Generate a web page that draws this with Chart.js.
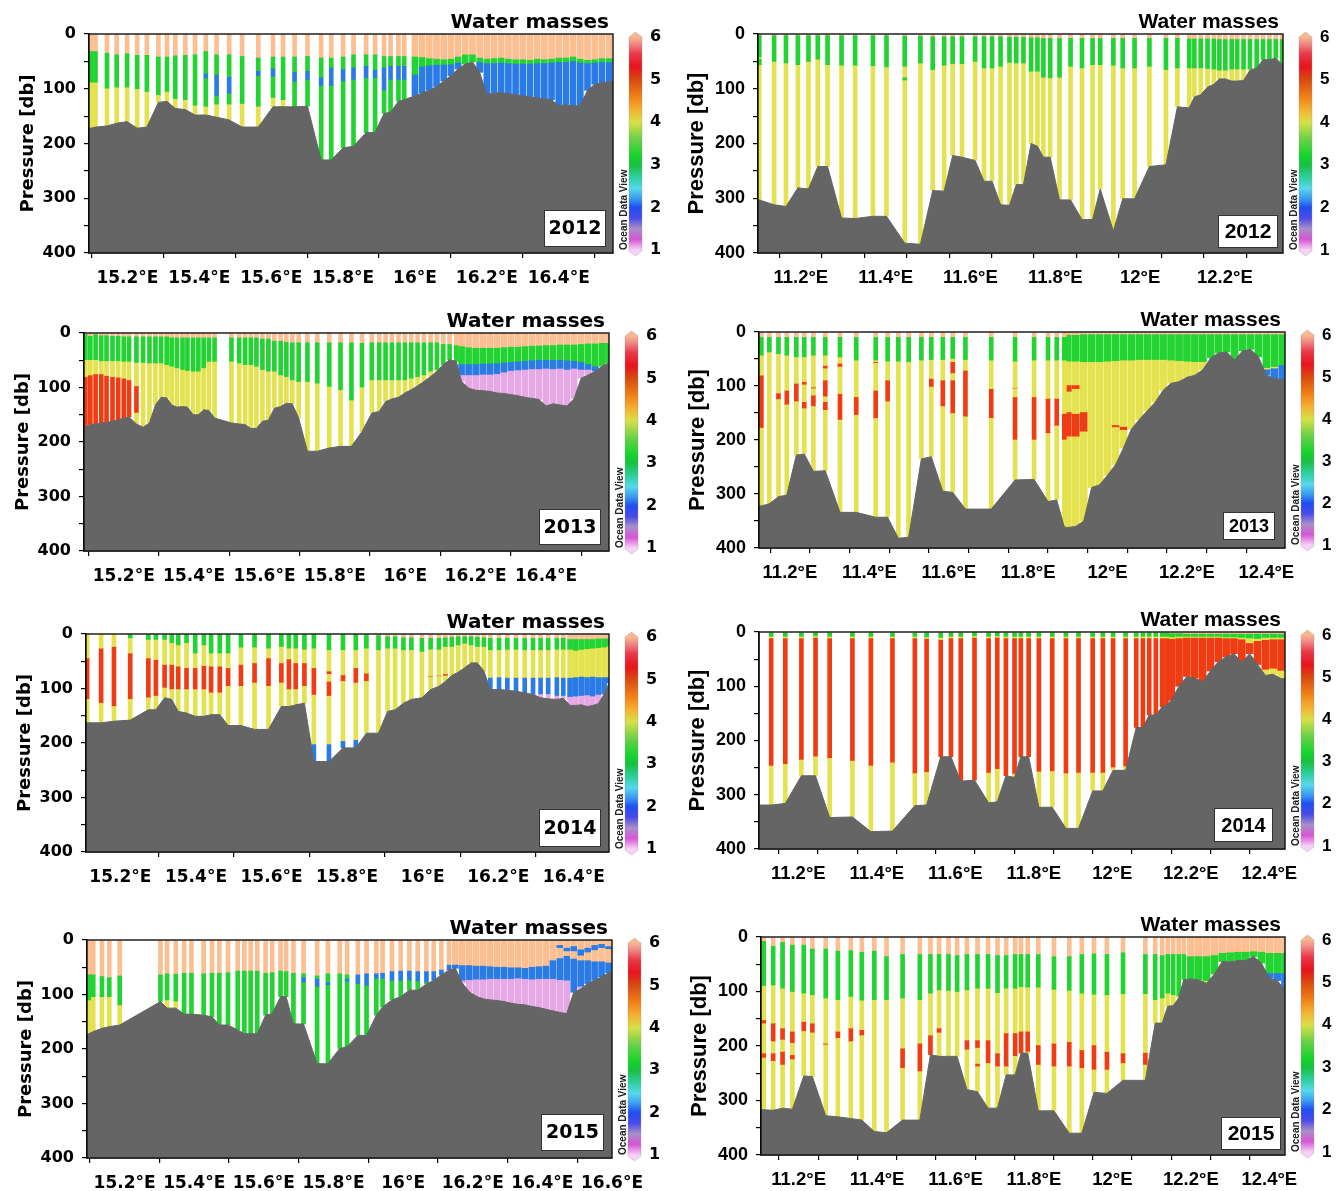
<!DOCTYPE html>
<html>
<head>
<meta charset="utf-8">
<script src="https://cdn.jsdelivr.net/npm/chart.js@4.4.1/dist/chart.umd.min.js"></script>
<style>
  body { margin: 0; background: #fff; width: 1338px; height: 1191px; position: relative; overflow: hidden; }
  canvas { position: absolute; }
</style>
</head>
<body>
<script>
// water mass class of each layer, then the depth (db) where that layer ends; last depth = sea floor at the station
var years = ['2012', '2013', '2014', '2015'];
var eTicks = [15.2, 15.4, 15.6, 15.8, 16, 16.2, 16.4, 16.6];
var wTicks = [11.1, 11.2, 11.3, 11.4, 11.5, 11.6, 11.7, 11.8, 11.9, 12, 12.1, 12.2, 12.3, 12.4];
var depthTicks = [0, 50, 100, 150, 200, 250, 300, 350, 400];
var cbarTicks = [1, 2, 3, 4, 5, 6];

// ---- 2012, 15-16.6 E
var e12Lon = [15.099,15.111,15.143,15.170,15.199,15.227,15.254,15.286,15.310,15.333,15.361,15.388,15.418,15.448,15.483,15.519,15.564,15.605,15.633,15.665,15.701,15.739,15.767,15.800,15.829,15.864,15.889,15.914,15.932,15.954,15.970];
var e12Col = [
  [6,32,3,88,4,172],[6,32,3,88,4,170],[6,35,3,99,4,168],[6,38,3,97,4,163],[6,36,3,97,4,160],
  [6,39,3,100,4,172],[6,39,3,105,4,170],[6,42,3,111,4,125],[6,42,3,105,4,123],[6,40,3,118,4,136],
  [6,39,3,120,4,138],[6,38,3,130,4,148],[6,32,3,73,2,80,3,132,4,148],[6,38,3,75,2,112,3,128,4,152],[6,38,3,79,2,108,3,128,4,157],
  [6,41,3,127,4,170],[6,44,3,68,2,76,3,132,4,170],[6,42,3,64,2,77,3,116,4,133],[6,42,3,120,4,133],[6,42,3,70,2,86,3,133],
  [6,41,3,68,2,83,3,132],[6,44,3,80,2,94,3,230],[6,44,3,62,2,94,3,230],[6,42,3,65,2,86,3,208],[6,38,3,62,2,83,3,205],
  [6,38,3,59,2,80,3,180],[6,38,3,66,2,80,3,180],[6,41,3,62,2,102,3,145],[6,41,3,59,2,83,3,143],[6,41,3,59,2,83,3,123],
  [6,41,3,59,2,83,3,120]
];
var e12LonD = [16.00,16.02,16.04,16.06,16.08,16.10,16.12,16.14,16.16,16.18,16.20,16.22,16.24,16.26,16.28,16.30,16.32,16.34,16.36,16.38,16.40,16.42,16.44,16.46,16.48,16.50,16.52,16.54];
var e12ColD = [
  [6,42,3,75,2,113],[6,43,3,60,2,108],[6,45,3,58,2,103],[6,46,3,57,2,96],[6,47,3,57,2,86],
  [6,46,3,56,2,76],[6,42,3,53,2,64],[6,38,3,55],[6,38,3,51],[6,44,3,52,2,70],
  [6,46,3,54,2,110],[6,45,3,54,2,108],[6,44,3,53,2,107],[6,46,3,54,2,109],[6,47,3,55,2,111],
  [6,47,3,55,2,113],[6,48,3,55,2,115],[6,46,3,54,2,117],[6,47,3,54,2,118],[6,46,3,53,2,120],
  [6,44,3,52,2,131],[6,44,3,52,2,129],[6,42,3,50,2,132],[6,46,3,53,2,130],[6,48,3,54,2,103],
  [6,47,3,53,2,92],[6,45,3,52,2,89],[6,45,3,52,2,87]
];

// ---- 2012, 11-12.4 E
var w12Lon = [11.102,11.137,11.165,11.193,11.218,11.240,11.263,11.296,11.328,11.370,11.402,11.445,11.482,11.511,11.538,11.558,11.580,11.611,11.632,11.651,11.671,11.692,11.708,11.725,11.743,11.758,11.772,11.788,11.810,11.836,11.863,11.888,11.906,11.937,11.959,11.987,12.022,12.061,12.088,12.116,12.128,12.143,12.159,12.174,12.187,12.201,12.216,12.229,12.244,12.259,12.275,12.290,12.305,12.320,12.335];
var w12Col = [
  [6,3,3,42,4,46,3,56,4,303],[6,3,3,50,4,312],[6,3,3,53,4,315],[6,3,3,56,4,281],[6,3,3,50,4,283],
  [6,3,3,46,4,242],[6,3,3,56,4,242],[6,3,3,57,4,336],[6,3,3,57,4,337],[6,3,3,58,4,333],
  [6,3,3,60,4,333],[6,4,3,59,4,80,3,84,4,382],[6,4,3,53,4,384],[6,5,3,65,4,286],[6,5,3,57,4,287],
  [6,5,3,54,4,222],[6,5,3,54,4,225],[6,5,3,50,4,231],[6,5,3,62,4,269],[6,5,3,62,4,269],
  [6,5,3,59,4,312],[6,6,3,52,4,313],[6,6,3,53,4,275],[6,6,3,53,4,275],[6,7,3,68,4,200],
  [6,7,3,68,4,205],[6,8,3,79,4,225],[6,8,3,80,4,225],[6,8,3,79,4,303],[6,8,3,59,4,303],
  [6,8,3,62,4,339],[6,8,3,56,4,339],[6,8,3,56,4,283],[6,8,3,57,4,360],[6,8,3,62,4,301],
  [6,8,3,62,4,301],[6,8,3,59,4,242],[6,8,3,65,4,239],[6,8,3,62,4,133],[6,9,3,62,4,135],
  [6,9,3,62,4,115],[6,9,3,62,4,111],[6,9,3,63,4,97],[6,9,3,64,4,92],[6,10,3,66,4,82],
  [6,10,3,66,4,82],[6,10,3,64,4,86],[6,10,3,64,4,86],[6,10,3,64,4,85],[6,10,3,64,4,66],
  [6,10,3,62],[6,10,3,47],[6,10,3,47],[6,10,3,44],[6,10,3,56]
];

// ---- 2013, 15-16.6 E
var e13Lon = [15.091,15.105,15.120,15.136,15.151,15.168,15.184,15.200,15.215,15.236,15.255,15.273,15.290,15.306,15.322,15.336,15.351,15.367,15.381,15.397,15.412,15.427,15.442,15.458,15.506,15.528,15.545,15.561,15.577,15.594,15.611,15.628,15.646,15.662,15.679,15.697,15.722,15.750,15.784,15.816,15.847,15.877,15.905,15.926,15.944,15.962,15.981,15.999,16.017,16.035,16.053,16.072,16.090,16.108,16.126,16.145];
var e13Col = [
  [6,3,3,49,4,80,5,172],[6,6,3,49,4,77,5,168],[6,3,3,49,4,75,5,167],[6,5,3,51,4,75,5,165],[6,5,3,51,4,78,5,164],
  [6,6,3,51,4,80,5,162],[6,6,3,51,4,81,5,159],[6,7,3,52,4,83,5,156],[6,7,3,52,4,86,5,154],[6,7,3,54,4,97,5,147,4,167],
  [6,7,3,54,4,173],[6,7,3,55,4,165],[6,7,3,55,4,132],[6,7,3,55,4,118],[6,7,3,58,4,119],
  [6,9,3,61,4,132],[6,9,3,64,4,136],[6,9,3,67,4,135],[6,9,3,69,4,136],[6,9,3,70,4,150],
  [6,9,3,70,4,150],[6,9,3,64,4,141],[6,9,3,52,4,142],[6,9,3,52,4,156],[6,9,3,52,4,165],
  [6,9,3,55,4,167],[6,9,3,58,4,168],[6,9,3,58,4,175],[6,9,3,61,4,175],[6,11,3,67,4,162],
  [6,11,3,70,4,160],[6,15,3,70,4,138],[6,15,3,77,4,135],[6,17,3,80,4,129],[6,18,3,86,4,130],
  [6,18,3,89,4,156],[6,18,3,89,4,217],[6,18,3,92,4,217],[6,18,3,98,4,211],[6,18,3,104,4,208],
  [6,18,3,123,4,208],[6,19,3,99,4,181],[6,18,3,86,4,147],[6,18,3,86,4,144],[6,18,3,86,4,126],
  [6,18,3,86,4,121],[6,18,3,86,4,118],[6,18,3,86,4,110],[6,18,3,83,4,104],[6,18,3,80,4,97],
  [6,18,3,77,4,89],[6,18,3,70,4,80],[6,18,3,67,4,70],[6,21,3,58],[6,21,3,49],
  [6,23,3,52]
];
var e13LonD = [16.16,16.18,16.20,16.22,16.24,16.26,16.28,16.30,16.32,16.34,16.36,16.38,16.40,16.42,16.44,16.46,16.48,16.50,16.52,16.54,16.56,16.578];
var e13ColD = [
  [6,25,3,58,2,78,1,89],[6,27,3,58,2,78,1,101],[6,28,3,58,2,78,1,105],[6,28,3,57,2,77,1,106],[6,28,3,57,2,77,1,107],
  [6,28,3,56,2,76,1,110],[6,27,3,55,2,73,1,111],[6,26,3,54,2,70,1,113],[6,26,3,53,2,69,1,115],[6,25,3,52,2,68,1,118],
  [6,24,3,51,2,67,1,120],[6,24,3,50,2,67,1,122],[6,23,3,50,2,66,1,134],[6,23,3,50,2,67,1,130],[6,22,3,50,2,66,1,132],
  [6,22,3,51,2,68,1,134],[6,22,3,52,2,66,1,120],[6,21,3,54,2,68,1,83],[6,20,3,58,2,68,1,77],[6,20,3,62,2,70],
  [6,19,3,61],[6,19,3,55]
];

// ---- 2013, 11-12.4 E
var w13Lon = [11.128,11.148,11.171,11.192,11.216,11.236,11.259,11.289,11.326,11.367,11.416,11.446,11.473,11.499,11.531,11.556,11.585,11.610,11.642,11.707,11.767,11.815,11.850,11.872,11.891];
var w13Col = [
  [6,10,3,43,4,80,5,178,4,322],[6,10,3,37,4,318],[6,10,3,40,4,113,5,125,4,305],[6,10,3,43,4,108,5,135,4,302],[6,10,3,46,4,95,5,129,4,228],
  [6,10,3,46,4,92,5,98,4,129,5,142,4,226],[6,10,3,43,4,102,5,105,4,117,5,138,4,258],[6,10,3,43,4,62,5,68,4,89,5,120,4,129,5,145,4,257],[6,10,3,46,4,58,5,65,4,114,5,163,4,334],[6,10,3,52,4,120,5,154,4,334],
  [6,10,3,52,4,55,5,58,4,108,5,160,4,343],[6,10,3,54,4,89,5,129,4,343],[6,10,3,54,4,382],[6,10,3,55,4,380],[6,10,3,52,4,235],
  [6,10,3,51,4,86,5,102,4,231],[6,10,3,51,4,89,5,138,4,295],[6,10,3,49,4,55,5,77,4,89,5,151,4,297],[6,10,3,51,4,71,5,157,4,328],[6,10,3,52,4,105,5,160,4,328],
  [6,10,3,54,4,103,5,105,4,120,5,200,4,274],[6,10,3,52,4,120,5,200,4,273],[6,10,3,52,4,123,5,188,4,314],[6,10,3,52,4,123,5,174,4,311],[6,10,3,52,4,151,5,200,4,361]
];
var w13LonD = [11.90,11.92,11.94,11.96,11.98,12.00,12.02,12.04,12.06,12.08,12.10,12.12,12.14,12.16,12.18,12.20,12.22,12.24,12.26,12.28,12.30,12.32,12.34,12.36,12.38,12.40,12.42,12.44];
var w13ColD = [
  [6,6,3,54,4,98,5,111,4,148,5,194,4,362],[6,6,3,54,4,98,5,106,4,151,5,194,4,360],[6,5,3,55,4,148,5,185,4,350],[6,5,3,55,4,288],[6,5,3,55,4,283],
  [6,5,3,54,4,265],[6,5,3,53,4,172,5,177,4,246],[6,5,3,52,4,175,5,182,4,215],[6,5,3,52,4,180],[6,5,3,51,4,162],
  [6,5,3,51,4,146],[6,5,3,51,4,130],[6,5,3,51,4,108],[6,5,3,52,4,95],[6,5,3,53,4,92],
  [6,5,3,54,4,84],[6,5,3,55,4,80],[6,5,3,55,4,70],[6,5,3,48],[6,5,3,39],
  [6,5,3,37],[6,5,3,52],[6,5,3,35],[6,5,3,32],[6,5,3,46],
  [6,5,3,66,4,70,2,80],[6,5,3,64,4,68,2,86],[6,5,3,62,2,88]
];

// ---- 2014, 15-16.6 E
var e14Lon = [15.112,15.149,15.183,15.226,15.274,15.294,15.317,15.336,15.353,15.375,15.398,15.421,15.440,15.463,15.485,15.519,15.555,15.592,15.626,15.646,15.664,15.687,15.712,15.752,15.789,15.823,15.851,15.883,15.907,15.927,15.949,15.970,15.998,16.021,16.043,16.060,16.077,16.094,16.111,16.128,16.145,16.162,16.179,16.202,16.224,16.247,16.270,16.292,16.312,16.332,16.355,16.372];
var e14Col = [
  [4,44,5,120,4,163],[4,26,5,127,4,163],[4,23,5,133,4,160],[3,7,4,35,5,120,4,158],[3,10,4,44,5,117,4,139],
  [3,10,4,47,5,114,4,139],[3,10,4,56,5,99,4,117],[3,16,4,56,5,102,4,120],[3,20,4,59,5,102,4,142],[3,16,4,62,5,102,4,145],
  [3,35,4,62,5,102,4,151],[3,20,4,58,5,102,4,151],[3,35,4,59,5,108,4,148],[3,35,4,59,5,108,4,148],[3,35,4,62,5,96,4,168],
  [3,24,4,56,5,96,4,168],[3,24,4,53,5,90,4,175],[3,26,4,44,5,96,4,175],[3,23,4,53,5,90,4,133],[3,26,4,46,5,102,4,133],
  [3,26,4,53,5,102,4,130],[3,28,4,53,5,96,4,127],[3,26,4,62,5,112,4,203,2,234],[3,29,4,68,5,74,4,87,5,114,4,203,2,234],[3,29,4,75,5,87,4,197,2,209],
  [3,29,4,62,5,90,4,195,2,209],[3,26,4,72,5,87,4,182],[6,3,3,29,4,182],[6,5,3,26,4,142],[6,5,3,26,4,139],
  [6,7,3,29,4,127],[6,7,3,29,4,120],[6,8,3,32,4,117],[6,8,3,28,4,77,5,79,4,102],[6,8,3,28,4,76,5,78,4,96],
  [6,7,3,23,4,73,5,77,4,87],[6,6,3,23,4,76],[6,5,3,20,4,70],[6,5,3,17,4,62],[6,5,3,20,4,53],
  [6,6,3,23,4,53],[6,7,3,23,4,68],[6,8,3,29,4,81,2,102],[6,8,3,29,4,80,2,102],[6,8,3,28,4,81,2,103],
  [6,8,3,28,4,81,2,105],[6,8,3,29,4,81,2,108],[6,8,3,29,4,81,2,111],[6,8,3,29,4,81,2,111,1,117],[6,8,3,29,4,81,2,111,1,119],
  [6,8,3,28,4,80,2,114,1,120],[6,8,3,28,4,81,2,114,1,118]
];
var e14LonD = [16.39,16.405,16.42,16.435,16.45,16.465,16.48,16.493];
var e14ColD = [
  [6,10,3,28,4,81,2,116,1,131],[6,10,3,30,4,80,2,115,1,131],[6,10,3,28,4,79,2,114,1,130],[6,10,3,27,4,80,2,113,1,133],
  [6,10,3,26,4,79,2,115,1,131],[6,9,3,25,4,80,2,112,1,128],[6,9,3,24,4,80,2,110],[6,9,3,22,4,80,2,90]
];

// ---- 2014, 11-12.4 E
var w14Lon = [11.131,11.167,11.208,11.244,11.280,11.338,11.385,11.440,11.497,11.527,11.563,11.589,11.614,11.649,11.685,11.707,11.729,11.751,11.767,11.787,11.813,11.847,11.882,11.914,11.950,11.976,12.002,12.034,12.061,12.078,12.094,12.111,12.127,12.138];
var w14Col = [
  [6,2,3,8,4,11,5,247,4,319],[6,2,3,8,4,11,5,244,4,316],[6,2,3,8,4,11,5,236,4,265],[6,2,3,7,4,10,5,230,4,265],[6,2,3,8,4,11,5,233,4,342],
  [6,1,3,8,4,11,5,238,4,341],[6,2,3,8,4,11,5,247,4,368],[6,2,3,8,4,11,5,241,4,367],[6,2,3,8,4,11,5,261,4,320],[6,2,3,9,4,12,5,259,4,319],
  [6,2,3,10,4,14,5,230],[6,2,3,8,4,11,5,230],[6,2,3,8,4,11,5,275],[6,1,3,7,4,10,5,273],[6,2,3,8,4,11,5,260,4,315],
  [6,1,3,7,4,10,5,253,4,313],[6,2,3,8,4,11,5,265],[6,2,3,8,4,11,5,262,4,268],[6,2,3,8,4,11,5,230],[6,2,3,8,4,11,5,230],
  [6,2,3,8,4,11,5,258,4,323],[6,2,3,8,4,11,5,257,4,323],[6,2,3,8,4,11,5,261,4,362],[6,2,3,8,4,11,5,260,4,362],[6,2,3,8,4,11,5,260,4,293],
  [6,2,3,8,4,11,5,260,4,293],[6,2,3,8,4,11,5,250,4,255],[6,2,3,8,4,11,5,248,4,255],[6,2,3,8,4,11,5,176],[6,2,3,8,4,11,5,176],
  [6,2,3,8,4,11,5,153],[6,2,3,8,4,11,5,153],[6,2,3,8,4,11,5,138],[6,2,3,8,4,11,5,135]
];
var w14LonD = [12.15,12.17,12.19,12.21,12.23,12.25,12.27,12.29,12.31,12.33,12.35,12.37,12.39,12.41,12.43];
var w14ColD = [
  [6,3,3,9,4,12,5,126],[6,3,3,8,4,11,5,100],[6,4,3,8,4,10,5,82],[6,4,3,8,4,10,5,85],[6,4,3,8,4,10,5,92],
  [6,4,3,8,4,10,5,72],[6,4,3,8,4,10,5,55],[6,4,3,9,4,11,5,46],[6,4,3,9,4,11,5,40],[6,4,3,10,4,13,5,56],
  [6,4,3,11,4,20,5,40],[6,4,3,12,4,16,5,60],[6,4,3,10,4,14,5,70,4,80],[6,4,3,10,4,13,5,68,4,78],[6,4,3,10,4,13,5,72,4,86]
];

// ---- 2015, 15-16.6 E
var e15Lon = [15.097,15.110,15.135,15.156,15.186,15.303,15.322,15.347,15.371,15.392,15.427,15.451,15.472,15.497,15.525,15.544,15.562,15.581,15.605,15.624,15.648,15.664,15.685,15.714,15.753,15.784,15.818,15.839,15.870,15.895,15.923,15.941,15.968,15.993,16.018,16.042,16.067,16.088,16.110,16.132];
var e15Col = [
  [6,64,3,110,4,172],[6,64,3,104,4,168],[6,67,3,104,4,162],[6,69,3,104,4,159],[6,66,3,119,4,156],
  [6,64,3,113],[6,62,3,110,4,125],[6,63,3,112,4,125],[6,61,3,136],[6,61,3,136],
  [6,62,3,138],[6,61,3,141],[6,61,3,156],[6,60,3,156],[6,57,3,165],
  [6,57,3,172],[6,57,3,172],[6,57,3,172],[6,61,3,138],[6,60,3,135],
  [6,57,3,104],[6,58,3,104],[6,61,3,154],[6,62,3,69,2,77,3,154],[6,66,3,72,2,85,3,227],
  [6,62,3,78,2,82,3,227],[6,62,3,199],[6,64,3,72,2,76,3,196],[6,64,2,80,3,175],[6,62,2,83,3,175],
  [6,62,2,70,3,138],[6,61,2,70,3,123],[6,58,2,74,3,110],[6,57,2,74,3,104],[6,57,2,74,3,92],
  [6,58,2,75,3,92],[6,58,2,77,3,81],[6,58,2,74],[6,55,2,64],[6,46,2,55]
];
var e15LonD = [16.15,16.17,16.19,16.21,16.23,16.25,16.27,16.29,16.31,16.33,16.35,16.37,16.39,16.41,16.43,16.45,16.47,16.49,16.51,16.53,16.55,16.57,16.59];
var e15ColD = [
  [6,46,2,52],[6,47,2,75,1,79],[6,47,2,74,1,95],[6,48,2,73,1,103],[6,48,2,73,1,108],
  [6,49,2,72,1,110],[6,50,2,72,1,111],[6,50,2,72,1,113],[6,51,2,72,1,116],[6,51,2,71,1,118],
  [6,52,2,72,1,119],[6,50,2,73,1,122],[6,49,2,72,1,124],[6,48,2,72,1,127],[6,38,2,72,1,130],
  [6,10,2,14,6,34,2,74,1,133],[6,15,2,20,6,30,2,75,1,135],[6,12,2,20,6,35,2,96],[6,18,2,28,6,38,2,86,1,90],[6,15,2,22,6,38,2,80],
  [6,10,2,18,6,40,2,74],[6,8,2,14,6,40,2,68],[6,12,2,16,6,42,2,60]
];

// ---- 2015, 11-12.4 E
var w15Lon = [11.111,11.135,11.159,11.184,11.213,11.235,11.269,11.300,11.333,11.361,11.393,11.424,11.465,11.509,11.536,11.558,11.582,11.604,11.629,11.656,11.683,11.707,11.729,11.752,11.767,11.784,11.811,11.851,11.890,11.922,11.953,11.986,12.027,12.084,12.109,12.127,12.141,12.155,12.169,12.182];
var w15Col = [
  [6,8,3,89,4,152,5,159,4,213,5,222,4,317],[6,17,3,88,4,158,5,192,4,213,5,228,4,318],[6,10,3,94,4,167,5,189,4,210,5,235,4,314],[6,15,3,100,4,173,5,195,4,216,5,225,4,316],[6,15,3,103,4,155,5,173,4,255],
  [6,22,3,106,4,158,5,176,4,256],[6,22,3,112,4,195,5,198,4,328],[6,26,3,115,4,173,5,186,4,330],[6,25,3,109,4,167,5,192,4,333],[6,28,3,116,4,170,5,181,4,336],
  [6,26,3,115,4,357],[6,36,3,115,4,359],[6,32,3,112,4,204,5,241,4,336],[6,32,3,115,4,195,5,247,4,336],[6,32,3,103,4,180,5,216],
  [6,32,3,97,4,167,5,176,4,219],[6,32,3,98,4,219],[6,34,3,100,4,219],[6,32,3,97,4,189,5,207,4,280],[6,32,3,94,4,189,5,204,4,232,5,238,4,284],
  [6,32,3,94,4,189,5,232,4,314],[6,34,3,102,4,213,5,238,4,314],[6,34,3,94,4,176,5,238,4,253],[6,32,3,94,4,176,5,219,4,253],[6,32,3,91,4,173,5,213],
  [6,32,3,92,4,173,5,211,4,213],[6,32,3,92,4,198,5,235,4,319],[6,36,3,96,4,195,5,238,4,319],[6,36,3,98,4,192,5,238,4,360],[6,32,3,103,4,207,5,241,4,360],
  [6,31,3,105,4,198,5,244,4,285],[6,32,3,106,4,210,5,244,4,287],[6,29,3,104,4,213,5,232,4,263],[6,32,3,104,4,212,5,235,4,263],[6,32,3,115,4,158],
  [6,34,3,112,4,158],[6,32,3,103,4,127],[6,32,3,106,4,126],[6,32,3,108,4,112],[6,32,3,78]
];
var w15LonD = [12.20,12.22,12.24,12.26,12.28,12.30,12.32,12.34,12.36,12.38,12.40,12.42,12.44];
var w15ColD = [
  [6,36,3,77],[6,36,3,79],[6,36,3,80,4,85],[6,34,3,68],[6,30,3,45],
  [6,29,3,46],[6,28,3,43],[6,28,3,43],[6,27,3,36],[6,28,3,48],
  [6,30,3,67,2,75],[6,30,3,67,2,80],[6,30,3,67,2,97]
];

// ---- styles
var massColors = { 1: '#e6a9e6', 2: '#2b7be6', 3: '#22d332', 4: '#e4e34f', 5: '#ef3c12', 6: '#fcbf91' };
var seabedColor = '#656565';
var cbarStops = [
  [1.0, '#f6d2f6'], [1.25, '#d655d6'], [1.5, '#a890c8'], [1.75, '#4a4ae8'], [2.0, '#1f4ff0'],
  [2.2, '#3a98f0'], [2.45, '#58d8ec'], [2.7, '#2dd0a0'], [3.0, '#18c040'], [3.2, '#14d42c'],
  [3.6, '#6ad048'], [4.0, '#d8e048'], [4.3, '#f4b030'], [4.6, '#f08018'], [5.0, '#d84a10'],
  [5.3, '#e8141c'], [5.6, '#e83848'], [5.85, '#f08c88'], [6.0, '#f8b890']
];

var panels = [
  { lon: e12Lon, col: e12Col, lonD: e12LonD, colD: e12ColD, xMin: 15.093, xMax: 16.551, box: [89, 34, 613, 253], year: years[0], side: 'e', dense: 6, yb: [7, 6, 62, 37, 19] },
  { lon: w12Lon, col: w12Col, xMin: 11.099, xMax: 12.337, box: [758, 34, 1283, 253], year: years[0], side: 'w', yb: [5, 5, 60, 33, 21] },
  { lon: e13Lon, col: e13Col, lonD: e13LonD, colD: e13ColD, xMin: 15.087, xMax: 16.579, box: [84, 333, 609, 551], year: years[1], side: 'e', dense: 6, yb: [8, 6, 62, 36, 19] },
  { lon: w13Lon, col: w13Col, lonD: w13LonD, colD: w13ColD, xMin: 11.122, xMax: 12.447, box: [759, 332, 1285, 548], year: years[1], side: 'w', dense: 7, yb: [10, 8, 52, 28, 18] },
  { lon: e14Lon, col: e14Col, lonD: e14LonD, colD: e14ColD, xMin: 15.109, xMax: 16.493, box: [86, 634, 609, 852], year: years[2], side: 'e', dense: 5, yb: [8, 5, 62, 38, 19] },
  { lon: w14Lon, col: w14Col, lonD: w14LonD, colD: w14ColD, xMin: 11.1, xMax: 12.44, box: [759, 632, 1285, 849], year: years[2], side: 'w', dense: 7, yb: [12, 7, 59, 34, 20] },
  { lon: e15Lon, col: e15Col, lonD: e15LonD, colD: e15ColD, xMin: 15.092, xMax: 16.6, box: [87, 940, 612, 1158], year: years[3], side: 'e', dense: 6, yb: [8, 7, 63, 37, 19] },
  { lon: w15Lon, col: w15Col, lonD: w15LonD, colD: w15ColD, xMin: 11.104, xMax: 12.44, box: [761, 937, 1285, 1155], year: years[3], side: 'w', dense: 7, yb: [4, 5, 60, 33, 21] }
];

function layerBars(lons, cols, width) {
  var groups = {};
  var n = Math.min(lons.length, cols.length);
  for (var i = 0; i < n; i++) {
    var c = cols[i], top = 0;
    for (var k = 0; k < c.length; k += 2) {
      (groups[c[k]] = groups[c[k]] || []).push({ x: lons[i], y: [top, c[k + 1]] });
      top = c[k + 1];
    }
  }
  return Object.keys(groups).map(function (cls) {
    return { type: 'bar', data: groups[cls], backgroundColor: massColors[cls], barThickness: width,
             grouped: false, borderWidth: 0, order: 1 };
  });
}

function seabed(p) {
  var pts = [];
  function add(lons, cols) {
    var n = Math.min(lons.length, cols.length);
    for (var i = 0; i < n; i++) pts.push({ x: lons[i], y: cols[i][cols[i].length - 1] });
  }
  add(p.lon, p.col);
  if (p.lonD) add(p.lonD, p.colD);
  pts.sort(function (a, b) { return a.x - b.x; });
  pts.unshift({ x: p.xMin, y: pts[0].y });
  pts.push({ x: p.xMax, y: pts[pts.length - 1].y });
  return { type: 'line', data: pts, borderColor: seabedColor, backgroundColor: seabedColor, borderWidth: 1,
           pointRadius: 0, tension: 0, fill: { value: 400 }, order: 0 };
}

function lonLabel(v) {
  return (Number.isInteger(v) ? String(v) : v.toFixed(1)) + '°E';
}

function drawDecor(chart, p) {
  var ctx = chart.ctx, a = chart.chartArea;
  var fam = p.side === 'e' ? '"DejaVu Sans"' : '"Liberation Sans"';
  ctx.save();
  // frame
  ctx.strokeStyle = '#111';
  ctx.lineWidth = 1.4;
  ctx.strokeRect(a.left, a.top, a.right - a.left, a.bottom - a.top);

  // title
  ctx.fillStyle = '#000';
  ctx.font = (p.side === 'e' ? 'bold 20px ' : 'bold 21px ') + fam;
  ctx.textAlign = 'right';
  ctx.textBaseline = 'alphabetic';
  ctx.fillText('Water masses', a.right - 4, a.top - 6);

  // year box
  var yb = p.yb;
  var bx = a.right - yb[0] - yb[2], by = a.bottom - yb[1] - yb[3];
  ctx.fillStyle = '#fff';
  ctx.fillRect(bx, by, yb[2], yb[3]);
  ctx.strokeStyle = '#333';
  ctx.lineWidth = 1;
  ctx.strokeRect(bx + 0.5, by + 0.5, yb[2] - 1, yb[3] - 1);
  ctx.fillStyle = '#000';
  ctx.font = 'bold ' + yb[4] + 'px ' + fam;
  ctx.textAlign = 'center';
  ctx.textBaseline = 'middle';
  ctx.fillText(p.year, bx + yb[2] / 2, by + yb[3] / 2 + 1);

  // y axis title
  ctx.save();
  ctx.translate(a.left - 61, (a.top + a.bottom) / 2);
  ctx.rotate(-Math.PI / 2);
  ctx.font = (p.side === 'e' ? 'bold 18px ' : 'bold 22px ') + fam;
  ctx.fillText('Pressure [db]', 0, 0);
  ctx.restore();

  // colour bar
  var cl = a.right + 16, cw = 13, tipT = a.top - 2, tipB = a.bottom + 3;
  var y6 = a.top + 3, y1 = a.bottom - 3;
  var g = ctx.createLinearGradient(0, y1, 0, y6);
  cbarStops.forEach(function (s) { g.addColorStop((s[0] - 1) / 5, s[1]); });
  ctx.beginPath();
  ctx.moveTo(cl, tipT + 5);
  ctx.lineTo(cl + cw / 2, tipT);
  ctx.lineTo(cl + cw, tipT + 5);
  ctx.lineTo(cl + cw, tipB - 5);
  ctx.lineTo(cl + cw / 2, tipB);
  ctx.lineTo(cl, tipB - 5);
  ctx.closePath();
  ctx.fillStyle = g;
  ctx.fill();
  ctx.strokeStyle = 'rgba(150,150,150,0.6)';
  ctx.lineWidth = 0.6;
  ctx.stroke();

  ctx.fillStyle = '#000';
  ctx.font = (p.side === 'e' ? 'bold 16px ' : 'bold 17px ') + fam;
  ctx.textAlign = 'left';
  ctx.textBaseline = 'middle';
  cbarTicks.forEach(function (v) {
    ctx.fillText(String(v), cl + cw + 8, y1 - (v - 1) / 5 * (y1 - y6));
  });

  ctx.save();
  ctx.translate(cl - 5, y1);
  ctx.rotate(-Math.PI / 2);
  ctx.font = 'bold 10px "Liberation Sans"';
  ctx.textAlign = 'left';
  ctx.textBaseline = 'middle';
  ctx.fillStyle = '#222';
  ctx.fillText('Ocean Data View', 0, 0);
  ctx.restore();

  ctx.restore();
}

panels.forEach(function (p) {
  var l = p.box[0], t = p.box[1], r = p.box[2], b = p.box[3];
  var W = (r - l) + 145, H = (b - t) + 80;
  var cv = document.createElement('canvas');
  cv.width = W; cv.height = H;
  cv.style.left = (l - 90) + 'px';
  cv.style.top = (t - 35) + 'px';
  cv.style.width = W + 'px';
  cv.style.height = H + 'px';
  document.body.appendChild(cv);

  var isE = p.side === 'e';
  var xFont = isE ? { family: 'DejaVu Sans', size: 17, weight: 'bold' } : { family: 'Liberation Sans', size: 18.5, weight: 'bold' };
  var yFont = isE ? { family: 'DejaVu Sans', size: 16, weight: 'bold' } : { family: 'Liberation Sans', size: 18, weight: 'bold' };
  var xList = isE ? eTicks : wTicks;

  var datasets = layerBars(p.lon, p.col, 4);
  if (p.lonD) datasets = datasets.concat(layerBars(p.lonD, p.colD, p.dense));
  datasets.push(seabed(p));

  new Chart(cv.getContext('2d'), {
    type: 'bar',
    data: { datasets: datasets },
    options: {
      responsive: false,
      animation: false,
      devicePixelRatio: 1,
      layout: { padding: { left: 0, top: 35, right: 55, bottom: 0 } },
      plugins: { legend: { display: false }, tooltip: { enabled: false } },
      scales: {
        x: {
          type: 'linear', min: p.xMin, max: p.xMax, offset: false,
          grid: { drawOnChartArea: false, drawTicks: true, tickLength: 5, color: '#000', lineWidth: 1.2 },
          border: { display: true, color: '#000', width: 1.5 },
          ticks: {
            autoSkip: false, maxRotation: 0, padding: isE ? 10 : 9, color: '#000', font: xFont,
            callback: function (v) {
              if (!isE && Math.round(v * 10) % 2 !== 0) return '';
              return lonLabel(v);
            }
          },
          afterBuildTicks: function (scale) {
            scale.ticks = xList.filter(function (v) { return v >= p.xMin - 1e-9 && v <= p.xMax + 1e-9; })
                               .map(function (v) { return { value: v }; });
          },
          afterFit: function (scale) { scale.height = 45; }
        },
        y: {
          type: 'linear', min: 0, max: 400, reverse: true,
          grid: { drawOnChartArea: false, drawTicks: true, tickLength: 5, color: '#000', lineWidth: 1.2 },
          border: { display: true, color: '#000', width: 1.5 },
          ticks: {
            autoSkip: false, padding: 8, color: '#000', font: yFont,
            callback: function (v) { return v % 100 === 0 ? String(v) : ''; }
          },
          afterBuildTicks: function (scale) {
            scale.ticks = depthTicks.map(function (v) { return { value: v }; });
          },
          afterFit: function (scale) { scale.width = 90; }
        }
      }
    },
    plugins: [{ id: 'decor', afterDraw: function (chart) { drawDecor(chart, p); } }]
  });
});
</script>
</body>
</html>
